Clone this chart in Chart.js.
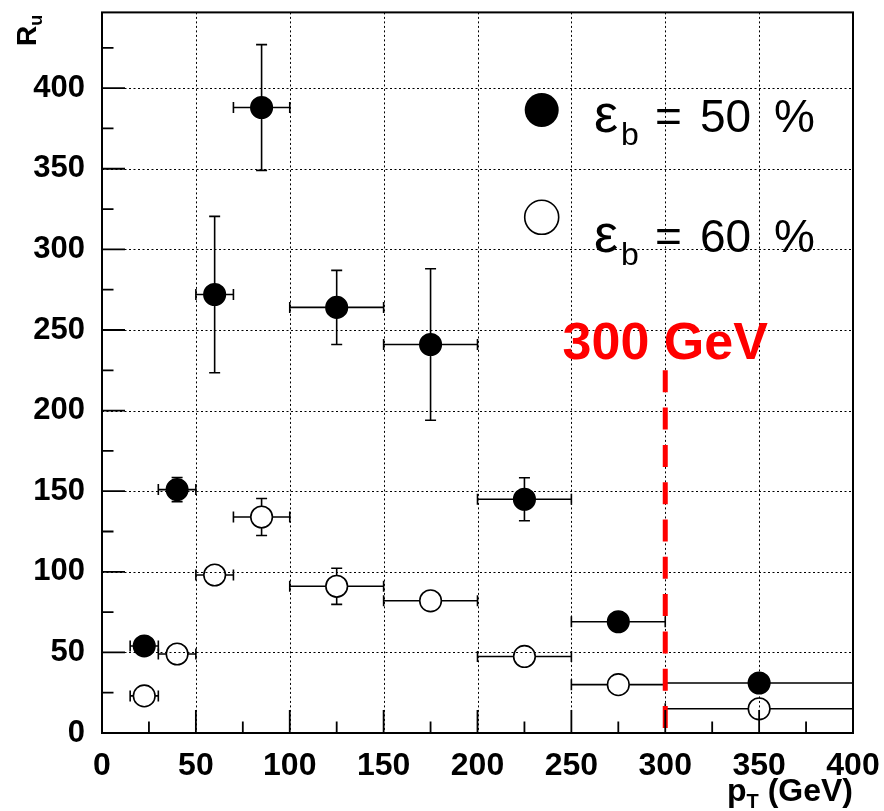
<!DOCTYPE html>
<html>
<head>
<meta charset="utf-8">
<script src="https://cdn.jsdelivr.net/npm/chart.js@4.4.1/dist/chart.umd.min.js"></script>
<style>
  html, body { margin: 0; padding: 0; background: #fff; }
  #wrap { width: 884px; height: 811px; }
</style>
</head>
<body>
<div id="wrap"><canvas id="c" width="884" height="811"></canvas></div>
<script>
// ---- data ----
const binCenters = [22.5, 40, 60, 85, 125, 175, 225, 275, 350];
const binLow     = [15, 30, 50, 70, 100, 150, 200, 250, 300];
const binHigh    = [30, 50, 70, 100, 150, 200, 250, 300, 400];
const rEff50     = [54, 151, 272, 388, 264, 241, 145, 69, 31];
const rEff50Err  = [3, 7.5, 48.5, 39, 23, 47, 13.3, 4, 2];
const rEff60     = [23, 49, 98, 134, 91, 82, 47.5, 30, 15];
const rEff60Err  = [2, 3, 4, 11.5, 11.2, 4, 3, 2, 1];
const legendLabels = ['50', '60'];
const cutValue = 300;
const cutTop = 225;
const cutLabel = '300 GeV';
const xMin = 0, xMax = 400, yMin = 0, yMax = 447;
const majorStep = 50, minorStep = 25;

const FONT = "'Liberation Sans', Arial, Helvetica, sans-serif";
const MR = 10.8;

const toPts = (ys) => binCenters.map((x, i) => ({ x: x, y: ys[i] }));

const errorBars = {
  id: 'errorBars',
  beforeDatasetsDraw(chart) {
    const { ctx, scales: { x, y } } = chart;
    ctx.save();
    // dotted grid
    ctx.strokeStyle = '#000';
    ctx.lineWidth = 1;
    ctx.setLineDash([2, 2.5]);
    const ca = chart.chartArea;
    for (let v = majorStep; v < xMax; v += majorStep) {
      const px = Math.round(x.getPixelForValue(v)) + 0.5;
      ctx.beginPath(); ctx.moveTo(px, ca.top); ctx.lineTo(px, ca.bottom); ctx.stroke();
    }
    for (let v = majorStep; v < yMax; v += majorStep) {
      const py = Math.round(y.getPixelForValue(v)) + 0.5;
      ctx.beginPath(); ctx.moveTo(ca.left, py); ctx.lineTo(ca.right, py); ctx.stroke();
    }
    ctx.setLineDash([]);
    // error bars
    ctx.lineWidth = 1.6;
    const cap = 5.5;
    const sets = [[rEff50, rEff50Err], [rEff60, rEff60Err]];
    sets.forEach(([vals, errs]) => {
      vals.forEach((v, i) => {
        const px = x.getPixelForValue(binCenters[i]);
        const py = y.getPixelForValue(v);
        const xl = x.getPixelForValue(binLow[i]);
        const xh = x.getPixelForValue(binHigh[i]);
        ctx.beginPath();
        if (px - xl > MR) { ctx.moveTo(xl, py); ctx.lineTo(px - MR, py); }
        if (xh - px > MR) { ctx.moveTo(px + MR, py); ctx.lineTo(xh, py); }
        ctx.moveTo(xl, py - cap); ctx.lineTo(xl, py + cap);
        ctx.moveTo(xh, py - cap); ctx.lineTo(xh, py + cap);
        const yt = y.getPixelForValue(v + errs[i]);
        const yb = y.getPixelForValue(v - errs[i]);
        if (py - yt > MR) {
          ctx.moveTo(px, py - MR); ctx.lineTo(px, yt);
          ctx.moveTo(px - cap, yt); ctx.lineTo(px + cap, yt);
          ctx.moveTo(px, py + MR); ctx.lineTo(px, yb);
          ctx.moveTo(px - cap, yb); ctx.lineTo(px + cap, yb);
        }
        ctx.stroke();
      });
    });
    ctx.restore();
  },
  afterDatasetsDraw(chart) {
    const { ctx, scales: { x, y } } = chart;
    const ca = chart.chartArea;
    ctx.save();
    // red cut line
    ctx.strokeStyle = '#ff0000';
    ctx.lineWidth = 5;
    ctx.setLineDash([22, 15.3]);
    const cx = x.getPixelForValue(cutValue);
    ctx.beginPath();
    ctx.moveTo(cx, y.getPixelForValue(cutTop));
    ctx.lineTo(cx, y.getPixelForValue(0));
    ctx.stroke();
    ctx.setLineDash([]);
    ctx.fillStyle = '#ff0000';
    ctx.font = 'bold 52px ' + FONT;
    ctx.textAlign = 'center';
    ctx.textBaseline = 'alphabetic';
    ctx.fillText(cutLabel, cx, y.getPixelForValue(cutTop) - 11);

    // frame
    ctx.strokeStyle = '#000';
    ctx.lineWidth = 2;
    ctx.strokeRect(ca.left, ca.top, ca.right - ca.left, ca.bottom - ca.top);
    // inward ticks
    ctx.lineWidth = 1.8;
    ctx.beginPath();
    for (let v = xMin; v <= xMax; v += minorStep) {
      const px = x.getPixelForValue(v);
      const len = (v % majorStep === 0) ? 23 : 11.5;
      ctx.moveTo(px, ca.bottom); ctx.lineTo(px, ca.bottom - len);
    }
    for (let v = yMin; v <= yMax; v += minorStep) {
      const py = y.getPixelForValue(v);
      const len = (v % majorStep === 0) ? 23 : 11.5;
      ctx.moveTo(ca.left, py); ctx.lineTo(ca.left + len, py);
    }
    ctx.stroke();

    // legend
    ctx.fillStyle = '#000';
    ctx.strokeStyle = '#000';
    ctx.lineWidth = 1.6;
    const lx = 541.7;
    const rows = [{ cy: 110, base: 131.7, filled: true }, { cy: 217.3, base: 251.7, filled: false }];
    rows.forEach((r, i) => {
      ctx.beginPath();
      ctx.arc(lx, r.cy, 17, 0, Math.PI * 2);
      if (r.filled) ctx.fill(); else ctx.stroke();
      ctx.textAlign = 'left';
      ctx.font = '54px ' + FONT;
      ctx.fillText('\u03b5', 594, r.base);
      ctx.font = '32px ' + FONT;
      ctx.fillText('b', 621, r.base + 13);
      ctx.font = '46px ' + FONT;
      ctx.fillText('=', 655, r.base);
      ctx.fillText(legendLabels[i], 700, r.base);
      ctx.fillText('%', 774, r.base);
    });

    // axis titles
    ctx.textAlign = 'right';
    ctx.font = 'bold 32px ' + FONT;
    const xt = ' (GeV)';
    const wt = ctx.measureText(xt).width;
    ctx.fillText(xt, ca.right, 801);
    ctx.font = 'bold 20px ' + FONT;
    const wT = ctx.measureText('T').width;
    ctx.fillText('T', ca.right - wt, 808);
    ctx.font = 'bold 32px ' + FONT;
    ctx.fillText('p', ca.right - wt - wT, 801);

    ctx.save();
    ctx.translate(36, 46);
    ctx.rotate(-Math.PI / 2);
    ctx.textAlign = 'left';
    ctx.font = 'bold 28px ' + FONT;
    ctx.fillText('R', 0, 0);
    const wR = ctx.measureText('R').width;
    ctx.font = 'bold 18px ' + FONT;
    ctx.fillText('u', wR, 6);
    ctx.restore();

    ctx.restore();
  }
};

const only50 = (s) => { s.ticks = s.ticks.filter(t => t.value % majorStep === 0); };

new Chart(document.getElementById('c'), {
  type: 'scatter',
  data: {
    datasets: [
      { label: '\u03b5b = 50 %', data: toPts(rEff50), pointRadius: MR, pointHoverRadius: MR,
        backgroundColor: '#000', borderColor: '#000', borderWidth: 1.5, showLine: false },
      { label: '\u03b5b = 60 %', data: toPts(rEff60), pointRadius: MR, pointHoverRadius: MR,
        backgroundColor: 'rgba(0,0,0,0)', borderColor: '#000', borderWidth: 1.6, showLine: false }
    ]
  },
  options: {
    responsive: false,
    animation: false,
    devicePixelRatio: 1,
    layout: { padding: { top: 9, right: 31, left: 0, bottom: 0 } },
    plugins: { legend: { display: false }, tooltip: { enabled: false } },
    scales: {
      x: {
        type: 'linear', min: xMin, max: xMax,
        afterFit: (s) => { s.height = 78; s.paddingLeft = 0; s.paddingRight = 0; },
        afterBuildTicks: only50,
        ticks: { stepSize: majorStep, color: '#000', padding: 6, maxRotation: 0,
                 font: { family: FONT, size: 32, weight: 'bold' } },
        grid: { display: false },
        border: { display: false }
      },
      y: {
        type: 'linear', min: yMin, max: yMax,
        afterFit: (s) => { s.width = 102; s.paddingTop = 0; s.paddingBottom = 0; },
        afterBuildTicks: only50,
        ticks: { stepSize: majorStep, color: '#000', padding: 9,
                 font: { family: FONT, size: 31, weight: 'bold' } },
        grid: { display: false },
        border: { display: false }
      }
    }
  },
  plugins: [errorBars]
});
</script>
</body>
</html>
